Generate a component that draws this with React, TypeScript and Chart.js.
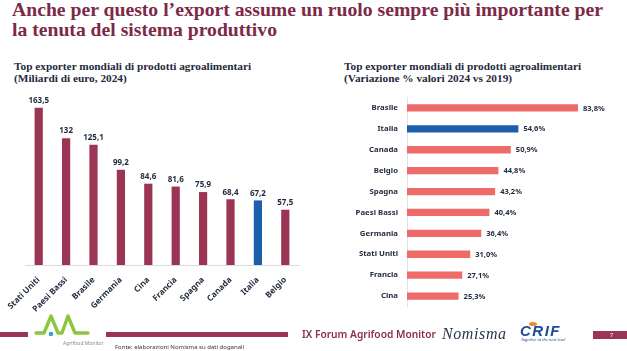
import React, { useEffect, useLayoutEffect, useRef } from "react";
import { Chart, registerables } from "chart.js";

Chart.register(...registerables);

const leftCategories = ["Stati Uniti", "Paesi Bassi", "Brasile", "Germania", "Cina", "Francia", "Spagna", "Canada", "Italia", "Belgio"];
const leftValues = [163.5, 132, 125.1, 99.2, 84.6, 81.6, 75.9, 68.4, 67.2, 57.5];

const rightCategories = ["Brasile", "Italia", "Canada", "Belgio", "Spagna", "Paesi Bassi", "Germania", "Stati Uniti", "Francia", "Cina"];
const rightValues = [83.8, 54.6, 50.9, 44.8, 43.2, 40.4, 36.4, 31.0, 27.1, 25.3];

const titleLines = ["Anche per questo l’export assume un ruolo sempre più importante per", "la tenuta del sistema produttivo"];
const titleWidths = [591, 265];

const highlight = "Italia";

const MAROON = "#9b3553";
const BLUE = "#1c5fae";
const SALMON = "#ef6b6a";
const DARK = "#1f2a3c";
const TITLE = "#7d2947";
const SANS = "'Noto Sans', 'Open Sans', sans-serif";
const SERIF = "'Liberation Serif', 'DejaVu Serif', serif";

const fmtLeft = (v: number) => String(v).replace(".", ",");
const fmtRight = (v: number) => v.toFixed(1).replace(".", ",") + "%";

function LeftChart() {
  const ref = useRef<HTMLCanvasElement>(null);
  useEffect(() => {
    const labelPlugin = {
      id: "valLabels",
      afterDatasetsDraw(chart: any) {
        const ctx = chart.ctx;
        const meta = chart.getDatasetMeta(0);
        ctx.save();
        ctx.font = `700 8px ${SANS}`;
        ctx.fillStyle = DARK;
        ctx.textAlign = "center";
        ctx.textBaseline = "bottom";
        meta.data.forEach((el: any, i: number) => {
          ctx.fillText(fmtLeft(leftValues[i]), el.x, el.y - 3);
        });
        ctx.restore();
      },
    };
    const chart = new Chart(ref.current!, {
      type: "bar",
      data: {
        labels: leftCategories,
        datasets: [
          {
            data: leftValues,
            backgroundColor: leftCategories.map((c) => (c === highlight ? BLUE : MAROON)),
            barPercentage: 0.3,
            categoryPercentage: 1,
          },
        ],
      },
      options: {
        animation: false,
        responsive: false,
        layout: { padding: { left: 25, right: 11, top: 4, bottom: 0 } },
        plugins: { legend: { display: false }, tooltip: { enabled: false } },
        scales: {
          y: { display: false, min: 0, max: 180 },
          x: {
            grid: { display: false },
            border: { color: "#dcdcdc" },
            ticks: {
              minRotation: 45,
              maxRotation: 45,
              color: DARK,
              font: { family: SANS, size: 8.3, weight: "bold" },
              padding: 2,
            },
            afterFit: (s: any) => {
              s.height = 50;
            },
          },
        },
      },
      plugins: [labelPlugin],
    } as any);
    return () => chart.destroy();
  }, []);
  return <canvas ref={ref} width={310} height={227} style={{ position: "absolute", left: 0, top: 88 }} />;
}

function RightChart() {
  const ref = useRef<HTMLCanvasElement>(null);
  useEffect(() => {
    const labelPlugin = {
      id: "valLabels2",
      afterDatasetsDraw(chart: any) {
        const ctx = chart.ctx;
        const meta = chart.getDatasetMeta(0);
        ctx.save();
        ctx.font = `700 7.5px ${SANS}`;
        ctx.fillStyle = DARK;
        ctx.textAlign = "left";
        ctx.textBaseline = "middle";
        meta.data.forEach((el: any, i: number) => {
          ctx.fillText(fmtRight(rightValues[i]), el.x + 5, el.y + 0.5);
        });
        ctx.restore();
      },
    };
    const chart = new Chart(ref.current!, {
      type: "bar",
      data: {
        labels: rightCategories,
        datasets: [
          {
            data: rightValues,
            backgroundColor: rightCategories.map((c) => (c === highlight ? BLUE : SALMON)),
            barPercentage: 0.35,
            categoryPercentage: 1,
          },
        ],
      },
      options: {
        indexAxis: "y",
        animation: false,
        responsive: false,
        layout: { padding: { left: 0, right: 16, top: 9.5, bottom: 11.5 } },
        plugins: { legend: { display: false }, tooltip: { enabled: false } },
        scales: {
          x: { display: false, min: 0, max: 100 },
          y: {
            grid: { display: false },
            border: { color: "#e2e2e2" },
            ticks: {
              color: DARK,
              font: { family: SANS, size: 7.8, weight: "bold" },
              padding: 1,
            },
            afterFit: (s: any) => {
              s.width = 87;
            },
          },
        },
      },
      plugins: [labelPlugin],
    } as any);
    return () => chart.destroy();
  }, []);
  return <canvas ref={ref} width={307} height={230} style={{ position: "absolute", left: 320, top: 88 }} />;
}

function Title() {
  const refs = useRef<(HTMLSpanElement | null)[]>([]);
  useLayoutEffect(() => {
    refs.current.forEach((el, i) => {
      if (!el) return;
      el.style.transform = "none";
      const w = el.getBoundingClientRect().width;
      if (w > 0) el.style.transform = `scaleX(${titleWidths[i] / w})`;
    });
  }, []);
  return (
    <div style={{ position: "absolute", left: 12, top: 0, width: 615, fontFamily: SERIF, fontWeight: 700, fontSize: "19px", lineHeight: "19.7px", color: TITLE }}>
      {titleLines.map((t, i) => (
        <div key={i} style={{ height: "19.7px", whiteSpace: "nowrap" }}>
          <span
            ref={(el) => {
              refs.current[i] = el;
            }}
            style={{ display: "inline-block", transformOrigin: "left top", whiteSpace: "nowrap" }}
          >
            {t}
          </span>
        </div>
      ))}
    </div>
  );
}

const abs = (s: React.CSSProperties): React.CSSProperties => ({ position: "absolute", ...s });

export default function App() {
  const sub: React.CSSProperties = {
    fontFamily: SERIF,
    fontWeight: 700,
    fontSize: "11.3px",
    lineHeight: "11.8px",
    color: DARK,
    whiteSpace: "nowrap",
  };
  return (
    <div style={{ position: "fixed", left: 0, top: 0, width: 627, height: 351, background: "#fff", overflow: "hidden" }}>
      <Title />
      <div style={abs({ left: 14, top: 61, ...sub })}>
        Top exporter mondiali di prodotti agroalimentari
        <br />
        (Miliardi di euro, 2024)
      </div>
      <div style={abs({ left: 344, top: 61, ...sub })}>
        Top exporter mondiali di prodotti agroalimentari
        <br />
        (Variazione % valori 2024 vs 2019)
      </div>

      <LeftChart />
      <RightChart />

      {/* footer */}
      <div style={abs({ left: 0, top: 332, width: 28, height: 5, background: MAROON })} />
      <svg style={abs({ left: 34, top: 313, width: 58, height: 26 })} viewBox="0 0 58 26">
        <polyline
          points="2,20 10,20 17,3 24,20 28,20 34,3 41,20 54,20"
          fill="none"
          stroke="#8cc63f"
          strokeWidth="3.4"
          strokeLinejoin="round"
          strokeLinecap="round"
        />
        <circle cx="17" cy="21" r="2.3" fill="#3aa0c8" />
      </svg>
      <div style={abs({ left: 63, top: 340, fontFamily: SANS, fontSize: "5px", color: "#8a8a8a", whiteSpace: "nowrap", lineHeight: "6px" })}>Agrifood Monitor</div>
      <div style={abs({ left: 106, top: 332, width: 182, height: 5, background: MAROON })} />
      <div style={abs({ left: 115, top: 343, fontFamily: SANS, fontSize: "6px", color: "#333", whiteSpace: "nowrap", lineHeight: "8px" })}>
        Fonte: elaborazioni Nomisma su dati doganali
      </div>
      <div style={abs({ left: 302, top: 328, fontFamily: SANS, fontWeight: 600, fontSize: "10.2px", color: "#8a2d4a", whiteSpace: "nowrap", lineHeight: "13px" })}>
        IX Forum Agrifood Monitor
      </div>
      <div style={abs({ left: 442, top: 325, fontFamily: SERIF, fontStyle: "italic", fontSize: "16px", letterSpacing: "0.6px", color: "#2a3550", whiteSpace: "nowrap", lineHeight: "18px" })}>
        Nomisma
      </div>
      <div style={abs({ left: 529, top: 322, width: 8, height: 4, borderRadius: "50%", background: "#f08a24" })} />
      <div style={abs({ left: 520, top: 324, fontFamily: "'Liberation Sans', sans-serif", fontWeight: 700, fontStyle: "italic", fontSize: "15px", letterSpacing: "1.5px", color: "#1b4b9a", whiteSpace: "nowrap", lineHeight: "14px" })}>
        CRIF
      </div>
      <div style={abs({ left: 521, top: 337, fontFamily: SANS, fontStyle: "italic", fontSize: "4px", color: "#1b4b9a", whiteSpace: "nowrap", lineHeight: "5px" })}>
        Together to the next level
      </div>
      <div style={abs({ left: 593, top: 331, width: 34, height: 8, background: MAROON })} />
      <div style={abs({ left: 610, top: 331, fontFamily: SANS, fontSize: "5.5px", color: "#fff", lineHeight: "8px" })}>7</div>
    </div>
  );
}
